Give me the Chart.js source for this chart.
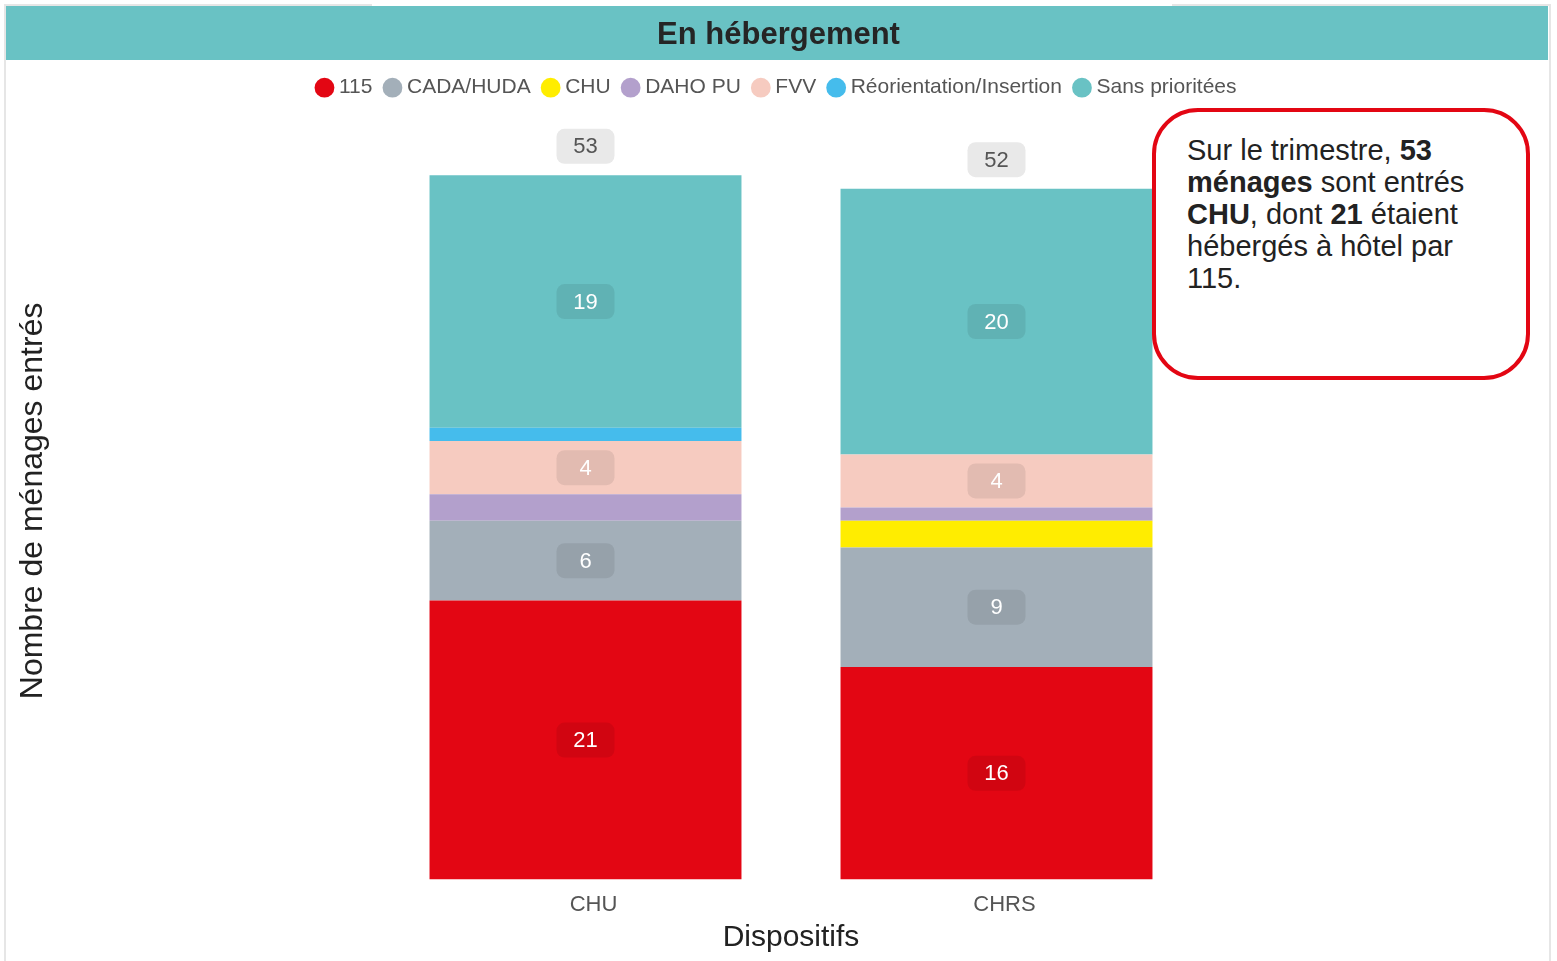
<!DOCTYPE html>
<html lang="fr">
<head>
<meta charset="utf-8">
<script src="https://cdn.jsdelivr.net/npm/chart.js@4.4.1/dist/chart.umd.min.js"></script>
<style>
  html, body { margin: 0; padding: 0; background: #fff; }
  #wrap { position: relative; width: 1557px; height: 961px; overflow: hidden; }
  #frame { position: absolute; left: 4px; top: 4px; width: 1543px; height: 965px;
           border-left: 2px solid #e6e6e6; border-right: 2px solid #e6e6e6; }
  .topline { position: absolute; top: 4px; height: 2px; background: #e6e6e6; }
  #note { position: absolute; left: 1152px; top: 108px; width: 378px; height: 272px;
          border: 4px solid #e30613; border-radius: 46px; background: #fff;
          font-family: 'Liberation Sans', Arial, sans-serif; font-size: 29px; line-height: 32px;
          color: #222; padding: 22px 0 0 31px; box-sizing: border-box; white-space: nowrap; }
  #note b { font-weight: bold; }
</style>
</head>
<body>
<div id="wrap">
  <div id="frame"></div>
  <div class="topline" style="left:4px;width:368px"></div>
  <div class="topline" style="left:1172px;width:379px"></div>
  <canvas id="chart" width="1557" height="961"></canvas>
  <div id="note">Sur le trimestre, <b>53</b><br><b>ménages</b> sont entrés<br><b>CHU</b>, dont <b>21</b> étaient<br>hébergés à hôtel par<br>115.</div>
</div>
<script>
  // Categories and series (nombre de ménages entrés)
  const dispositifs = ["CHU", "CHRS"];
  const prioriteLabels = ["115", "CADA/HUDA", "CHU", "DAHO PU", "FVV", "Réorientation/Insertion", "Sans prioritées"];
  const val115 = [21, 16];
  const valCadaHuda = [6, 9];
  const valChu = [0, 2];
  const valDahoPu = [2, 1];
  const valFvv = [4, 4];
  const valReorientation = [1, 0];
  const valSansPriorite = [19, 20];
  const colors = ["#e30613", "#a3afb9", "#ffed00", "#b3a0cc", "#f6cbc0", "#45bcec", "#69c2c4"];

  const seriesValues = [val115, valCadaHuda, valChu, valDahoPu, valFvv, valReorientation, valSansPriorite];
  const totals = dispositifs.map((d, i) => seriesValues.reduce((s, arr) => s + arr[i], 0));

  Chart.defaults.font.family = "'Liberation Sans', Arial, sans-serif";

  function roundRect(ctx, x, y, w, h, r) {
    ctx.beginPath();
    ctx.moveTo(x + r, y);
    ctx.arcTo(x + w, y, x + w, y + h, r);
    ctx.arcTo(x + w, y + h, x, y + h, r);
    ctx.arcTo(x, y + h, x, y, r);
    ctx.arcTo(x, y, x + w, y, r);
    ctx.closePath();
  }

  // Teal title band behind the chart title
  const titleBand = {
    id: "titleBand",
    beforeDraw(chart) {
      const ctx = chart.ctx;
      ctx.save();
      ctx.fillStyle = "#69c2c4";
      ctx.fillRect(6, 6, 1542, 54);
      ctx.restore();
    }
  };

  // Push chart area down below the legend
  const legendMargin = {
    id: "legendMargin",
    beforeInit(chart) {
      const origFit = chart.legend.fit;
      chart.legend.fit = function () {
        origFit.bind(chart.legend)();
        this.height += 14;
      };
    }
  };

  // Value labels inside segments + totals above bars
  const barLabels = {
    id: "barLabels",
    afterDatasetsDraw(chart) {
      const ctx = chart.ctx;
      ctx.save();
      ctx.font = "22px 'Liberation Sans', Arial, sans-serif";
      ctx.textAlign = "center";
      ctx.textBaseline = "middle";
      chart.data.datasets.forEach((ds, di) => {
        const meta = chart.getDatasetMeta(di);
        meta.data.forEach((bar, i) => {
          const v = ds.data[i];
          if (v < 3) return;
          const cy = (bar.y + bar.base) / 2;
          roundRect(ctx, bar.x - 29, cy - 17.5, 58, 35, 8);
          ctx.fillStyle = "rgba(0,0,0,0.08)";
          ctx.fill();
          ctx.fillStyle = "#ffffff";
          ctx.fillText(String(v), bar.x, cy + 1);
        });
      });
      const lastMeta = chart.getDatasetMeta(chart.data.datasets.length - 1);
      lastMeta.data.forEach((bar, i) => {
        const yTop = chart.scales.y.getPixelForValue(totals[i]);
        const cy = yTop - 29;
        roundRect(ctx, bar.x - 29, cy - 17.5, 58, 35, 8);
        ctx.fillStyle = "#e9e9e9";
        ctx.fill();
        ctx.fillStyle = "#555555";
        ctx.fillText(String(totals[i]), bar.x, cy + 1);
      });
      ctx.restore();
    }
  };

  new Chart(document.getElementById("chart").getContext("2d"), {
    type: "bar",
    data: {
      labels: dispositifs,
      datasets: prioriteLabels.map((lab, k) => ({
        label: lab,
        data: seriesValues[k],
        backgroundColor: colors[k],
        borderWidth: 0,
        categoryPercentage: 1,
        barPercentage: 0.759
      }))
    },
    options: {
      responsive: false,
      animation: false,
      layout: { padding: { left: 5, right: 5, top: 6, bottom: 7 } },
      plugins: {
        title: {
          display: true,
          text: "En hébergement",
          color: "#252525",
          font: { size: 31, weight: "bold" },
          padding: { top: 11, bottom: 7 }
        },
        legend: {
          position: "top",
          labels: {
            usePointStyle: true,
            pointStyle: "circle",
            boxWidth: 8,
            boxHeight: 14,
            padding: 16,
            color: "#555555",
            font: { size: 21 }
          }
        },
        tooltip: { enabled: false }
      },
      scales: {
        x: {
          stacked: true,
          grid: { display: false },
          border: { display: false },
          ticks: { color: "#555555", font: { size: 22 }, padding: 4, labelOffset: 8 },
          title: { display: true, text: "Dispositifs", color: "#222222", font: { size: 30, lineHeight: 1.0667 }, padding: { top: 0, bottom: 0 } }
        },
        y: {
          stacked: true,
          min: 0,
          max: 57,
          grid: { display: false },
          border: { display: false },
          ticks: { display: false },
          title: { display: true, text: "Nombre de ménages entrés", color: "#222222", font: { size: 32 }, padding: { top: 9, bottom: 0 } },
          afterFit(scale) { scale.width = 375; }
        },
        yRight: {
          position: "right",
          grid: { display: false },
          border: { display: false },
          ticks: { display: false },
          afterFit(scale) { scale.width = 350; }
        }
      }
    },
    plugins: [titleBand, legendMargin, barLabels]
  });
</script>
</body>
</html>
